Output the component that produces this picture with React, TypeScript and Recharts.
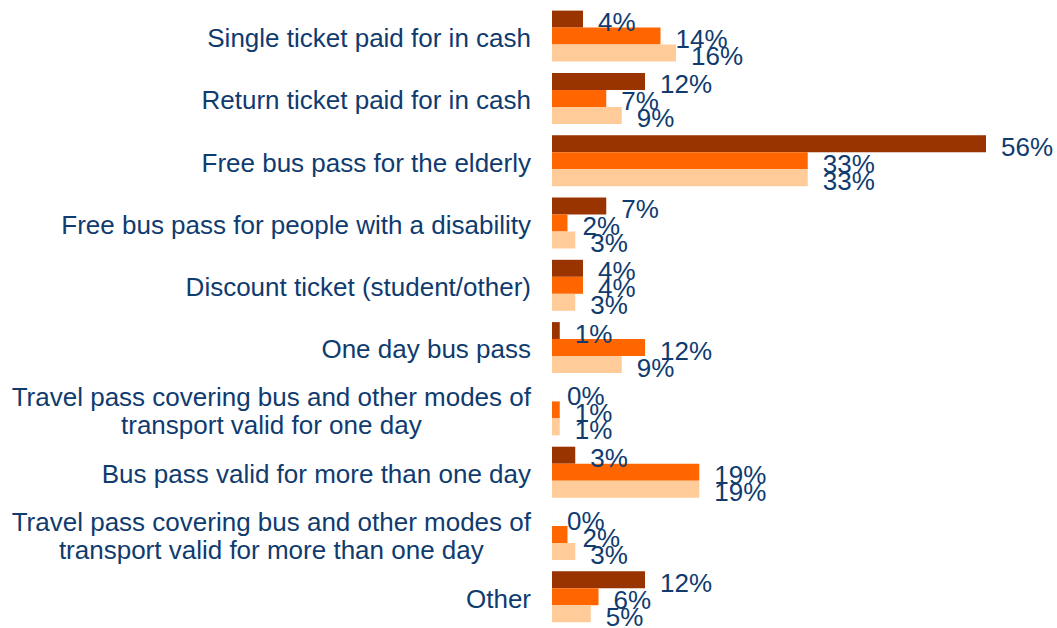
import { BarChart, Bar, XAxis, YAxis, LabelList } from 'recharts'

// ticket types, top to bottom ('\n' marks a line break in the axis label)
const categories = [
  'Single ticket paid for in cash',
  'Return ticket paid for in cash',
  'Free bus pass for the elderly',
  'Free bus pass for people with a disability',
  'Discount ticket (student/other)',
  'One day bus pass',
  'Travel pass covering bus and other modes of\ntransport valid for one day',
  'Bus pass valid for more than one day',
  'Travel pass covering bus and other modes of\ntransport valid for more than one day',
  'Other',
]

// percentages per series
const series1 = [4, 12, 56, 7, 4, 1, 0, 3, 0, 12]
const series2 = [14, 7, 33, 2, 4, 12, 1, 19, 2, 6]
const series3 = [16, 9, 33, 3, 3, 9, 1, 19, 3, 5]

const COLORS = ['#993300', '#FF6600', '#FFCC99']
const TEXT = '#0F3B6F'
const FONT = '"Liberation Sans", Arial, sans-serif'
const FONT_SIZE = 26

const rows = categories.map((name, i) => ({
  name,
  s1: series1[i],
  s2: series2[i],
  s3: series3[i],
}))

let ctx: CanvasRenderingContext2D | null = null
function textWidth(s: string) {
  if (!ctx) ctx = document.createElement('canvas').getContext('2d')
  if (!ctx) return s.length * FONT_SIZE * 0.5
  ctx.font = `${FONT_SIZE}px "Liberation Sans"`
  return ctx.measureText(s).width
}

function CategoryTick(props: any) {
  const { x, y, payload } = props
  const lines = String(payload.value).split('\n')
  if (lines.length === 1) {
    return (
      <text x={x} y={y + 10.8} textAnchor="end" fontSize={FONT_SIZE} fontFamily={FONT} fill={TEXT}>
        {lines[0]}
      </text>
    )
  }
  // second line is centred under the first, block is right aligned
  const w = textWidth(lines[0])
  const cx = x - w / 2
  return (
    <g>
      <text x={cx} y={y + 10.5 - 14} textAnchor="middle" fontSize={FONT_SIZE} fontFamily={FONT} fill={TEXT}>
        {lines[0]}
      </text>
      <text x={cx} y={y + 10.5 + 14} textAnchor="middle" fontSize={FONT_SIZE} fontFamily={FONT} fill={TEXT}>
        {lines[1]}
      </text>
    </g>
  )
}

function ValueLabel(props: any) {
  const { x, y, width, height, value } = props
  const w = width < 0.5 ? 0 : width
  return (
    <text x={x + w + 15} y={y + height / 2 + 12} fontSize={FONT_SIZE} fontFamily={FONT} fill={TEXT}>
      {`${value}%`}
    </text>
  )
}

// keep zero bars (invisible) so their "0%" label is still drawn
const minSize = (v: any) => (Number(v) === 0 ? 0.01 : 0)

export default function App() {
  return (
    <div style={{ position: 'absolute', left: 0, top: 0, width: 1057, height: 628, background: '#fff' }}>
      <BarChart
        width={1057}
        height={628}
        data={rows}
        layout="vertical"
        margin={{ top: 5, right: 40, bottom: 0, left: 0 }}
        barGap={0}
        barCategoryGap="9%"
      >
        <XAxis type="number" domain={[0, 60]} hide />
        <YAxis
          type="category"
          dataKey="name"
          width={552}
          axisLine={false}
          tickLine={false}
          tickSize={0}
          tickMargin={21}
          interval={0}
          tick={<CategoryTick />}
        />
        {(['s1', 's2', 's3'] as const).map((key, i) => (
          <Bar key={key} dataKey={key} fill={COLORS[i]} minPointSize={minSize} isAnimationActive={false}>
            <LabelList dataKey={key} content={<ValueLabel />} />
          </Bar>
        ))}
      </BarChart>
    </div>
  )
}
